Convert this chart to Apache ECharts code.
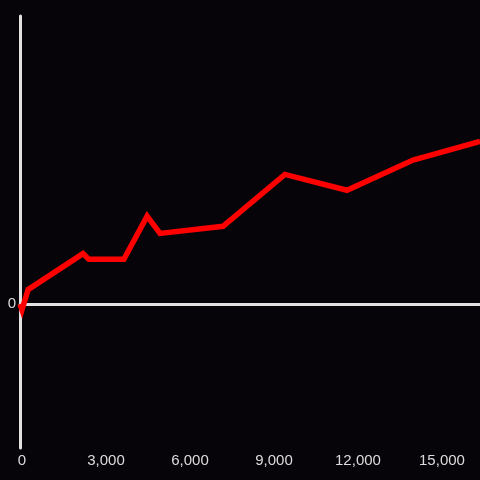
<!DOCTYPE html>
<html>
<head>
<meta charset="utf-8">
<script src="https://cdn.jsdelivr.net/npm/echarts@6/dist/echarts.min.js"></script>
<style>
  html, body { margin: 0; padding: 0; background: #060408; }
  #chart { width: 480px; height: 480px; }
</style>
</head>
<body>
<div id="chart"></div>
<script>
const xValues = [0, 70, 290, 2250, 2460, 3710, 4540, 5000, 7250, 9460, 11680, 14040, 16430];
const yValues = [0, -4, 10, 35, 31, 31, 61, 49, 54, 90, 79, 100, 113];

const chart = echarts.init(document.getElementById('chart'));
const axisColor = '#e2e2e2';
const labelColor = '#dcdcdc';

const option = {
    backgroundColor: '#060408',
    animation: false,
    grid: { left: 20, right: 0, top: 16, bottom: 32, containLabel: false },
    xAxis: [
        {
            type: 'value',
            min: 0,
            max: 16430,
            interval: 3000,
            position: 'bottom',
            axisLine: { show: false, onZero: false },
            axisTick: { show: false },
            splitLine: { show: false },
            axisLabel: {
                color: labelColor,
                fontSize: 15,
                fontFamily: 'Liberation Sans',
                margin: 5,
                padding: [0, 0, 0, 4],
                showMaxLabel: false,
                formatter: (v) => v.toLocaleString('en-US')
            }
        },
        {
            type: 'value',
            min: 0,
            max: 16430,
            interval: 3000,
            axisLine: { show: true, onZero: true, lineStyle: { color: axisColor, width: 3 } },
            axisTick: { show: false },
            splitLine: { show: false },
            axisLabel: { show: false }
        }
    ],
    yAxis: {
        type: 'value',
        min: -100,
        max: 200,
        interval: 100,
        axisLine: { show: true, onZero: false, lineStyle: { color: axisColor, width: 3 } },
        axisTick: { show: false },
        splitLine: { show: false },
        axisLabel: {
            color: labelColor,
            fontSize: 15,
            fontFamily: 'Liberation Sans',
            margin: 4,
            padding: [2, 0, 0, 0],
            formatter: (v) => (v === 0 ? '0' : '')
        }
    },
    series: [
        {
            type: 'line',
            xAxisIndex: 0,
            data: xValues.map((x, i) => [x, yValues[i]]),
            symbol: 'none',
            lineStyle: { color: '#ff0000', width: 5.5, join: 'miter' },
            z: 5
        }
    ]
};

chart.setOption(option);
</script>
</body>
</html>
